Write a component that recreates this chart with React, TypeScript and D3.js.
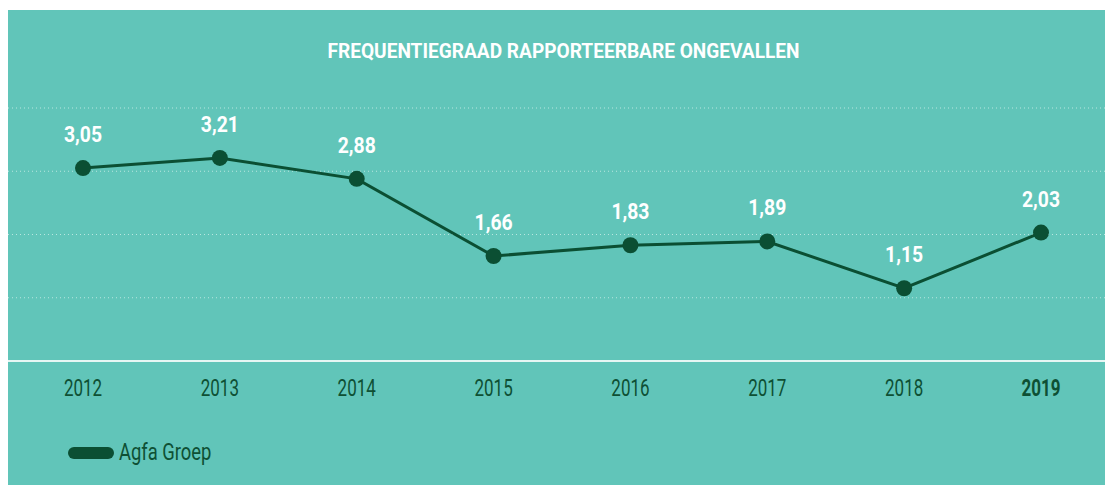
import React from "react";
import * as d3 from "d3";

const years = ["2012", "2013", "2014", "2015", "2016", "2017", "2018", "2019"];
const values = [3.05, 3.21, 2.88, 1.66, 1.83, 1.89, 1.15, 2.03];
const gridTicks = [1, 2, 3, 4];
const title = "FREQUENTIEGRAAD RAPPORTEERBARE ONGEVALLEN";
const seriesName = "Agfa Groep";

const W = 1105;
const H = 485;
const BG = "#61c5b9";
const DARK = "#0b4f33";
const TEXTDARK = "#0e5034";
const FONT = "Roboto, 'Liberation Sans', sans-serif";

function SText(props: {
  x: number;
  y: number;
  sx: number;
  anchor?: string;
  fill: string;
  size: number;
  weight?: string | number;
  children: React.ReactNode;
}) {
  const { x, y, sx, anchor = "middle", fill, size, weight = "normal", children } = props;
  return (
    <text
      transform={`translate(${x},${y}) scale(${sx},1)`}
      textAnchor={anchor}
      fill={fill}
      fontFamily={FONT}
      fontWeight={weight}
      fontSize={size}
    >
      {children}
    </text>
  );
}

export default function App() {
  const x = d3.scalePoint<string>().domain(years).range([83, 1041]);
  const y = d3.scaleLinear().domain([0, 4]).range([361, 108]);
  const line = d3
    .line<number>()
    .x((_, i) => x(years[i]) as number)
    .y((d) => y(d));
  const fmt = (v: number) => v.toFixed(2).replace(".", ",");

  return (
    <svg
      width={W}
      height={H}
      style={{ position: "absolute", left: 0, top: 0, display: "block" }}
    >
      <rect x={8} y={10} width={W - 8} height={H - 10} fill={BG} />
      <SText x={563.5} y={57.5} sx={0.91} fill="#ffffff" size={21} weight="bold">
        {title}
      </SText>
      {gridTicks.map((t) => (
        <line
          key={t}
          x1={8}
          x2={W}
          y1={y(t)}
          y2={y(t)}
          stroke="#b9e6e0"
          strokeWidth={1}
          strokeDasharray="1,3"
        />
      ))}
      <line x1={8} x2={W} y1={y(0)} y2={y(0)} stroke="#e6f7f4" strokeWidth={2} />
      <path d={line(values) || ""} fill="none" stroke={DARK} strokeWidth={3} />
      {values.map((v, i) => (
        <circle key={i} cx={x(years[i])} cy={y(v)} r={8} fill={DARK} />
      ))}
      {values.map((v, i) => (
        <SText
          key={"l" + i}
          x={x(years[i]) as number}
          y={y(v) - 26}
          sx={0.88}
          fill="#ffffff"
          size={22}
          weight="bold"
        >
          {fmt(v)}
        </SText>
      ))}
      {years.map((yr, i) => (
        <SText
          key={"y" + yr}
          x={x(yr) as number}
          y={396}
          sx={0.74}
          fill={TEXTDARK}
          size={23}
          weight={i === years.length - 1 ? "bold" : "normal"}
        >
          {yr}
        </SText>
      ))}
      <line
        x1={74}
        x2={108}
        y1={453}
        y2={453}
        stroke={DARK}
        strokeWidth={12}
        strokeLinecap="round"
      />
      <SText x={119} y={460} sx={0.8} anchor="start" fill={TEXTDARK} size={23}>
        {seriesName}
      </SText>
    </svg>
  );
}
